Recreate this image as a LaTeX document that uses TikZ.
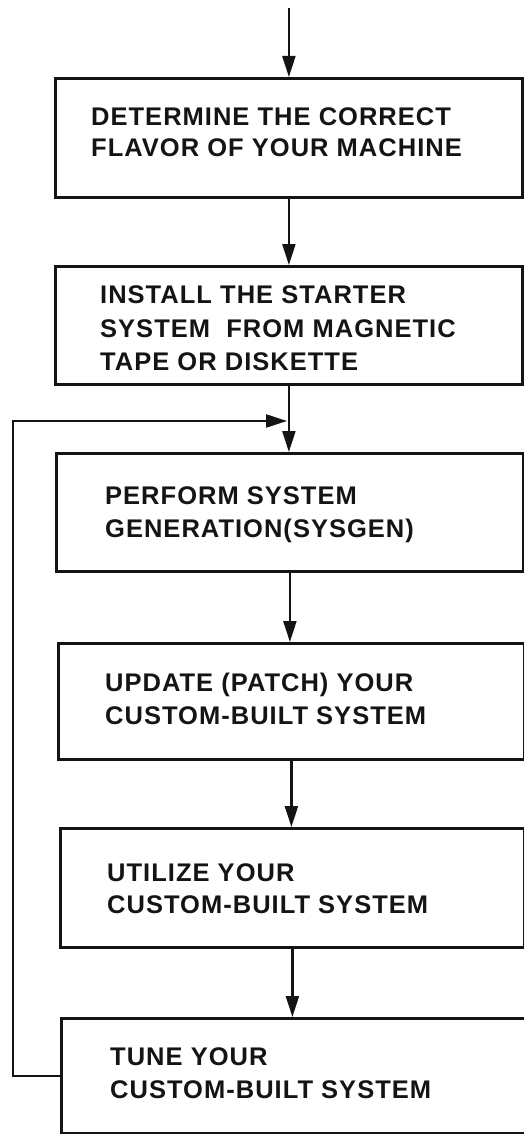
\documentclass[tikz,border=0pt]{standalone}
\usepackage{fontspec}
\newfontfamily\flowfont{Liberation Sans}[LetterSpace=4.0]
\usepackage{tikz}
\usetikzlibrary{arrows.meta,positioning,calc}
\definecolor{ink}{HTML}{141414}

\begin{document}
\begin{tikzpicture}[x=1pt,y=-1pt,
  stepbox/.style={draw=ink, line width=2.8pt, inner sep=0pt, anchor=north west},
  boxtext/.style={font=\flowfont\bfseries\fontsize{25.5}{33}\selectfont, color=ink,
                  inner sep=0pt, anchor=base west, align=left},
  flow/.style={draw=ink, line width=2.2pt, -{Triangle[length=21pt,width=13pt]}}]
 \useasboundingbox (0,0) rectangle (524,1134);
 \node[stepbox, minimum width=467pt, minimum height=119pt] (determine) at (54,77) {};
 \node[stepbox, minimum width=467pt, minimum height=118pt] (install)   at (54,265) {};
 \node[stepbox, minimum width=467pt, minimum height=118pt] (sysgen)    at (55,452) {};
 \node[stepbox, minimum width=466pt, minimum height=116pt] (update)    at (57,642) {};
 \node[stepbox, minimum width=464pt, minimum height=119pt] (utilize)   at (59,827) {};
 \node[stepbox, minimum width=464pt, minimum height=115pt] (tune)      at (60,1017) {};
 \node[boxtext] (determineText) at (91,157)
   {DETERMINE THE CORRECT\\[-2pt]FLAVOR OF YOUR MACHINE};
 \node[boxtext] (installText) at (100,370)
   {INSTALL THE STARTER\\[1pt]SYSTEM\ \ FROM MAGNETIC\\TAPE OR DISKETTE};
 \node[boxtext] (sysgenText) at (105,537)
   {PERFORM SYSTEM\\GENERATION(SYSGEN)};
 \node[boxtext] (updateText) at (105,724)
   {UPDATE (PATCH) YOUR\\CUSTOM-BUILT SYSTEM};
 \node[boxtext] (utilizeText) at (107,913)
   {UTILIZE YOUR\\[-1pt]CUSTOM-BUILT SYSTEM};
 \node[boxtext] (tuneText) at (110,1098)
   {TUNE YOUR\\CUSTOM-BUILT SYSTEM};
 \coordinate (start) at (287.5,8);
 \coordinate (join) at (287,421);
 \draw[flow] (determine.north |- start) -- (determine.north);
 \draw[flow] (determine) -- (install);
 \draw[flow] (install.south) -- (install.south |- sysgen.north);
 \draw[flow] (sysgen.south) -- (sysgen.south |- update.north);
 \draw[flow] (update.south) -- (update.south |- utilize.north);
 \draw[flow] (utilize.south) -- (utilize.south |- tune.north);
 \draw[flow] (tune.west) -- ++(-47,0) |- (join);
\end{tikzpicture}
\end{document}
